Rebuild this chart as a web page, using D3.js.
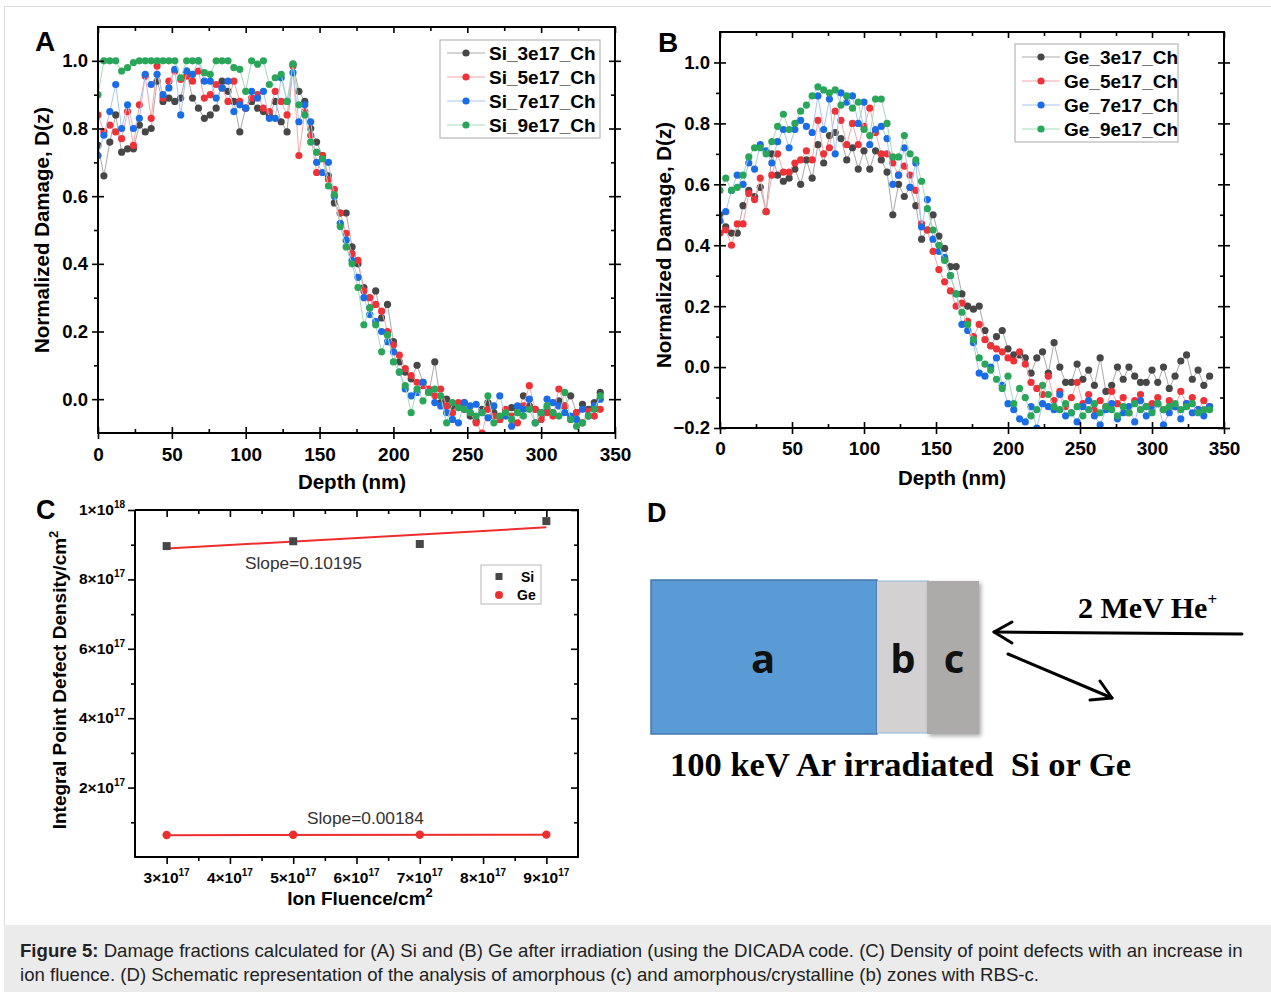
<!DOCTYPE html>
<html>
<head>
<meta charset="utf-8">
<script src="https://cdn.jsdelivr.net/npm/d3@7"></script>
<style>
body { margin: 0; background: #fff; }
svg { display: block; }
</style>
</head>
<body>
<svg id="fig" width="1271" height="992"></svg>
<script>
// depth grid (nm) shared by panels A and B
var depth = [0,4,8,12,16,20,24,28,32,36,
             40,44,48,52,56,60,64,68,72,76,
             80,84,88,92,96,100,104,108,112,116,
             120,124,128,132,136,140,144,148,152,156,
             160,164,168,172,176,180,184,188,192,196,
             200,204,208,212,216,220,224,228,232,236,
             240,244,248,252,256,260,264,268,272,276,
             280,284,288,292,296,300,304,308,312,316,
             320,324,328,332,336,340];

var siNames = ["Si_3e17_Ch", "Si_5e17_Ch", "Si_7e17_Ch", "Si_9e17_Ch"];
var geNames = ["Ge_3e17_Ch", "Ge_5e17_Ch", "Ge_7e17_Ch", "Ge_9e17_Ch"];

var si3e17 = [0.75,0.66,0.76,0.84,0.73,0.74,0.74,0.81,0.79,0.80,
              0.94,0.88,0.89,0.88,0.89,0.97,0.89,0.86,0.83,0.84,
              0.86,0.94,0.91,0.88,0.79,0.86,0.88,0.86,0.85,0.84,
              0.88,0.82,0.79,0.99,0.91,0.88,0.80,0.76,0.72,0.66,
              0.58,0.55,0.55,0.45,0.40,0.33,0.27,0.32,0.24,0.28,
              0.17,0.11,0.08,0.06,0.10,0.05,0.02,0.11,-0.01,0.00,
              -0.02,-0.015,-0.03,-0.05,-0.065,-0.03,-0.01,-0.04,-0.06,-0.04,
              -0.025,-0.04,0.01,-0.02,-0.03,-0.05,-0.03,-0.04,-0.005,-0.02,
              0.01,-0.04,-0.015,-0.03,-0.01,0.02];
var si5e17 = [0.84,0.79,0.81,0.79,0.77,0.85,0.75,0.87,0.955,0.83,
              0.985,0.89,0.94,0.97,0.945,0.955,0.94,0.97,0.89,0.90,
              0.93,0.92,0.88,0.94,0.88,0.86,0.89,0.90,0.86,0.85,
              0.91,0.88,0.84,0.985,0.72,0.85,0.78,0.67,0.72,0.65,
              0.62,0.55,0.49,0.43,0.41,0.32,0.30,0.28,0.26,0.20,
              0.16,0.13,0.09,0.07,0.05,0.04,0.03,0.01,0.03,-0.02,
              -0.04,-0.01,-0.01,-0.04,-0.07,-0.10,-0.03,-0.05,-0.06,-0.03,
              -0.05,-0.07,-0.02,0.04,-0.03,-0.06,-0.04,-0.05,0.03,-0.02,
              -0.06,-0.04,-0.07,-0.035,-0.05,-0.03];
var si7e17 = [0.72,0.78,0.85,0.93,0.80,0.87,0.80,0.83,0.96,0.93,
              0.96,0.90,0.92,0.975,0.84,0.97,0.96,1.00,0.94,0.94,
              0.89,0.92,0.94,0.85,0.87,0.86,0.91,0.89,0.91,0.83,
              0.83,0.95,0.88,0.965,0.82,0.87,0.82,0.70,0.67,0.70,
              0.60,0.52,0.47,0.41,0.36,0.30,0.25,0.23,0.20,0.17,
              0.14,0.08,0.03,0.01,0.02,0.05,0.02,-0.01,-0.02,-0.04,
              -0.06,-0.07,-0.01,-0.02,-0.015,-0.04,-0.055,-0.02,0.01,-0.05,
              -0.08,-0.02,-0.03,0.00,-0.07,-0.04,0.00,-0.01,-0.02,-0.04,
              -0.05,-0.06,-0.03,-0.05,-0.02,0.00];
var si9e17 = [0.90,1.00,1.00,1.00,0.97,0.98,0.995,1.00,1.00,1.00,
              1.00,1.00,1.00,1.00,0.95,1.00,1.00,1.00,0.965,0.96,
              1.00,1.00,1.00,0.98,0.975,0.91,1.00,0.99,1.00,0.93,
              0.95,0.96,0.88,0.99,0.87,0.84,0.76,0.73,0.71,0.63,
              0.605,0.51,0.45,0.40,0.33,0.22,0.27,0.22,0.14,0.19,
              0.11,0.08,0.04,-0.04,0.03,-0.005,0.02,0.03,0.01,-0.07,
              -0.01,-0.025,-0.03,-0.04,-0.05,-0.04,0.01,-0.07,-0.05,-0.04,
              -0.06,-0.04,-0.05,-0.03,-0.07,-0.04,-0.02,-0.04,-0.05,0.02,
              -0.06,-0.08,-0.07,-0.05,-0.03,0.01];

var ge3e17 = [0.50,0.46,0.44,0.44,0.53,0.58,0.56,0.59,0.51,0.70,
              0.63,0.61,0.62,0.65,0.60,0.68,0.62,0.73,0.67,0.76,
              0.77,0.75,0.68,0.72,0.65,0.71,0.65,0.71,0.68,0.64,
              0.50,0.60,0.56,0.59,0.53,0.42,0.45,0.50,0.43,0.39,
              0.33,0.33,0.24,0.20,0.19,0.20,0.12,0.07,0.10,0.12,
              0.06,0.04,0.04,0.03,-0.02,0.03,0.05,-0.02,0.08,0.00,
              -0.05,-0.05,0.01,-0.04,-0.01,-0.06,0.03,-0.08,-0.06,0.00,
              -0.04,0.00,-0.03,-0.05,-0.05,-0.01,-0.05,0.00,-0.07,-0.03,
              0.02,0.04,-0.04,-0.01,-0.06,-0.03];
var ge5e17 = [0.44,0.45,0.40,0.47,0.47,0.57,0.55,0.62,0.51,0.63,
              0.70,0.64,0.64,0.67,0.68,0.71,0.68,0.81,0.70,0.72,
              0.84,0.81,0.73,0.80,0.73,0.79,0.85,0.77,0.70,0.70,
              0.67,0.63,0.66,0.63,0.58,0.47,0.45,0.38,0.32,0.28,
              0.25,0.20,0.21,0.15,0.10,0.14,0.09,0.07,0.06,0.05,
              0.03,0.02,0.05,0.01,-0.05,-0.07,-0.09,-0.03,-0.11,-0.08,
              -0.13,-0.10,-0.05,-0.12,-0.09,-0.14,-0.11,-0.13,-0.08,-0.12,
              -0.10,-0.15,-0.11,-0.09,-0.13,-0.12,-0.10,-0.14,-0.11,-0.13,
              -0.08,-0.12,-0.10,-0.14,-0.11,-0.13];
var ge7e17 = [0.48,0.51,0.58,0.63,0.60,0.67,0.65,0.73,0.71,0.67,
              0.74,0.78,0.72,0.78,0.81,0.79,0.77,0.89,0.78,0.88,
              0.70,0.90,0.87,0.89,0.80,0.87,0.73,0.78,0.79,0.75,
              0.60,0.63,0.72,0.59,0.67,0.46,0.55,0.42,0.38,0.36,
              0.30,0.24,0.14,0.12,0.08,-0.02,-0.03,0.00,0.03,-0.06,
              -0.12,-0.14,-0.17,-0.18,-0.13,-0.20,-0.12,-0.13,-0.14,-0.09,
              -0.16,-0.15,-0.18,-0.13,-0.11,-0.16,-0.19,-0.14,-0.12,-0.17,
              -0.15,-0.13,-0.18,-0.11,-0.16,-0.14,-0.12,-0.19,-0.15,-0.13,
              -0.17,-0.12,-0.15,-0.14,-0.16,-0.13];
var ge9e17 = [0.58,0.62,0.58,0.59,0.63,0.69,0.72,0.72,0.70,0.74,
              0.79,0.83,0.78,0.80,0.84,0.86,0.89,0.92,0.91,0.90,
              0.91,0.86,0.89,0.85,0.87,0.78,0.76,0.88,0.88,0.80,
              0.69,0.69,0.76,0.70,0.68,0.61,0.52,0.45,0.40,0.35,
              0.30,0.24,0.18,0.14,0.09,0.03,0.01,-0.01,-0.04,-0.07,
              -0.03,-0.12,-0.07,-0.10,-0.16,-0.14,-0.06,-0.09,-0.13,-0.14,
              -0.12,-0.15,-0.13,-0.16,-0.14,-0.12,-0.15,-0.13,-0.14,-0.16,
              -0.13,-0.15,-0.12,-0.14,-0.13,-0.15,-0.12,-0.14,-0.13,-0.12,
              -0.14,-0.13,-0.12,-0.15,-0.14,-0.14];

var depthTicks = [0, 50, 100, 150, 200, 250, 300, 350];
var depthMinor = [25, 75, 125, 175, 225, 275, 325];
var siDamageTicks = [0, 0.2, 0.4, 0.6, 0.8, 1.0];
var siDamageMinor = [0.1, 0.3, 0.5, 0.7, 0.9];
var geDamageTicks = [-0.2, 0, 0.2, 0.4, 0.6, 0.8, 1.0];
var geDamageMinor = [-0.1, 0.1, 0.3, 0.5, 0.7, 0.9];

// panel C
var fluence = [3e17, 5e17, 7e17, 9e17];
var siDensity = [8.96e17, 9.10e17, 9.02e17, 9.68e17];
var geDensity = [6.35e16, 6.4e16, 6.4e16, 6.45e16];
var fitFluence = [3e17, 9e17];
var siFit = [8.89e17, 9.50e17];
var geFit = [6.3e16, 6.42e16];
var fluenceTicks = [3e17, 4e17, 5e17, 6e17, 7e17, 8e17, 9e17];
var fluenceLabels = [["3", "17"], ["4", "17"], ["5", "17"], ["6", "17"], ["7", "17"], ["8", "17"], ["9", "17"]];
var fluenceMinor = [3.5e17, 4.5e17, 5.5e17, 6.5e17, 7.5e17, 8.5e17];
var densityTicks = [2e17, 4e17, 6e17, 8e17, 1e18];
var densityLabels = [["2", "17"], ["4", "17"], ["6", "17"], ["8", "17"], ["1", "18"]];
var densityMinor = [1e17, 3e17, 5e17, 7e17, 9e17];

var dotColors = ["#474747", "#ee3237", "#1a6de6", "#2aa65a"];
var lineColors = ["#a9a9a9", "#f6a7a9", "#a7c5f3", "#a4dbb8"];

var FONT = "Arial, 'Liberation Sans', sans-serif";
var SERIF = "'Times New Roman', 'Liberation Serif', serif";

var svg = d3.select("#fig");

window.onload = init;

function init() {
    svg.append("rect").attr("width", 1271).attr("height", 992).attr("fill", "#fff");
    svg.append("rect")
        .attr("x", 4.5).attr("y", 6.5).attr("width", 1270).attr("height", 920)
        .attr("fill", "none").attr("stroke", "#dadada");

    damagePanel({
        id: "A", label: "A", labelX: 35, labelY: 51,
        left: 98, right: 615, top: 27, bottom: 433,
        yDomain: [-0.1, 1.1], yTicks: siDamageTicks, yMinor: siDamageMinor,
        series: [si3e17, si5e17, si7e17, si9e17], names: siNames,
        legX: 440, legY: 40, legW: 160,
        xPad: 9, titleX: 352, titleY: 489, yTitleX: 49, yTitleY: 230
    });

    damagePanel({
        id: "B", label: "B", labelX: 658, labelY: 52,
        left: 720, right: 1224, top: 32, bottom: 428,
        yDomain: [-0.2, 1.1], yTicks: geDamageTicks, yMinor: geDamageMinor,
        series: [ge3e17, ge5e17, ge7e17, ge9e17], names: geNames,
        legX: 1015, legY: 44, legW: 163,
        xPad: 8, titleX: 952, titleY: 485, yTitleX: 671, yTitleY: 245
    });

    densityPanel();
    schematicPanel();
    caption();
}

function addAxis(g, gen, translate, values, size, fmt, pad, fontSize) {
    var a = g.append("g").attr("transform", translate)
        .call(gen.tickValues(values).tickSizeInner(size).tickSizeOuter(0)
            .tickPadding(pad || 3).tickFormat(fmt || ""));
    a.select(".domain").remove();
    a.selectAll(".tick line").attr("stroke", "#000").attr("stroke-width", 1.6);
    a.attr("font-family", FONT).attr("font-size", fontSize || 16).attr("font-weight", "bold");
    a.selectAll(".tick text").attr("fill", "#000");
    return a;
}

function damagePanel(cfg) {
    var x = d3.scaleLinear().domain([0, 350]).range([cfg.left, cfg.right]);
    var y = d3.scaleLinear().domain(cfg.yDomain).range([cfg.bottom, cfg.top]);
    var g = svg.append("g");

    g.append("clipPath").attr("id", cfg.id + "clip").append("rect")
        .attr("x", cfg.left).attr("y", cfg.top)
        .attr("width", cfg.right - cfg.left).attr("height", cfg.bottom - cfg.top);
    var plot = g.append("g").attr("clip-path", "url(#" + cfg.id + "clip)");

    var line = d3.line()
        .x(function(d) { return x(d[0]); })
        .y(function(d) { return y(d[1]); });

    cfg.series.forEach(function(vals, k) {
        var pts = vals.map(function(v, i) { return [depth[i], v]; });
        plot.append("path").datum(pts)
            .attr("d", line)
            .attr("fill", "none")
            .attr("stroke", lineColors[k])
            .attr("stroke-width", 1);
        plot.selectAll("circle.s" + k)
            .data(pts)
            .enter()
            .append("circle")
            .attr("class", "s" + k)
            .attr("cx", function(d) { return x(d[0]); })
            .attr("cy", function(d) { return y(d[1]); })
            .attr("r", 3.6)
            .attr("fill", dotColors[k]);
    });

    var fmt = d3.format(".1f");
    // bottom
    addAxis(g, d3.axisBottom(x), "translate(0," + cfg.bottom + ")", depthTicks, 6, d3.format("d"), cfg.xPad, 19);
    addAxis(g, d3.axisBottom(x), "translate(0," + cfg.bottom + ")", depthTicks, -6);
    addAxis(g, d3.axisBottom(x), "translate(0," + cfg.bottom + ")", depthMinor, -4);
    // left
    addAxis(g, d3.axisLeft(y), "translate(" + cfg.left + ",0)", cfg.yTicks, 6, fmt, 4, 18.5);
    addAxis(g, d3.axisLeft(y), "translate(" + cfg.left + ",0)", cfg.yTicks, -6);
    addAxis(g, d3.axisLeft(y), "translate(" + cfg.left + ",0)", cfg.yMinor, 4);
    // top and right mirror
    addAxis(g, d3.axisTop(x), "translate(0," + cfg.top + ")", depthTicks, -6);
    addAxis(g, d3.axisTop(x), "translate(0," + cfg.top + ")", depthMinor, -4);
    addAxis(g, d3.axisRight(y), "translate(" + cfg.right + ",0)", cfg.yTicks, 6);
    addAxis(g, d3.axisRight(y), "translate(" + cfg.right + ",0)", cfg.yTicks, -6);
    addAxis(g, d3.axisRight(y), "translate(" + cfg.right + ",0)", cfg.yMinor, -4);

    g.append("rect")
        .attr("x", cfg.left).attr("y", cfg.top)
        .attr("width", cfg.right - cfg.left).attr("height", cfg.bottom - cfg.top)
        .attr("fill", "none").attr("stroke", "#000").attr("stroke-width", 2);

    // legend
    var leg = g.append("g");
    leg.append("rect")
        .attr("x", cfg.legX).attr("y", cfg.legY)
        .attr("width", cfg.legW).attr("height", 98)
        .attr("fill", "#fff").attr("stroke", "#b8b8b8").attr("stroke-width", 1.2);
    cfg.names.forEach(function(name, k) {
        var yy = cfg.legY + 13 + k * 24;
        leg.append("line")
            .attr("x1", cfg.legX + 7).attr("x2", cfg.legX + 45)
            .attr("y1", yy).attr("y2", yy)
            .attr("stroke", lineColors[k]).attr("stroke-width", 1.2);
        leg.append("circle")
            .attr("cx", cfg.legX + 26).attr("cy", yy).attr("r", 3.6)
            .attr("fill", dotColors[k]);
        leg.append("text")
            .attr("x", cfg.legX + 49).attr("y", yy + 7)
            .attr("font-family", FONT).attr("font-size", 19).attr("font-weight", "bold")
            .text(name);
    });

    // titles
    g.append("text")
        .attr("x", cfg.titleX).attr("y", cfg.titleY)
        .attr("text-anchor", "middle")
        .attr("font-family", FONT).attr("font-size", 20.5).attr("font-weight", "bold")
        .text("Depth (nm)");
    g.append("text")
        .attr("transform", "translate(" + cfg.yTitleX + "," + cfg.yTitleY + ") rotate(-90)")
        .attr("text-anchor", "middle")
        .attr("font-family", FONT).attr("font-size", 20.5).attr("font-weight", "bold")
        .text("Normalized Damage, D(z)");
    g.append("text")
        .attr("x", cfg.labelX).attr("y", cfg.labelY)
        .attr("font-family", FONT).attr("font-size", 28).attr("font-weight", "bold")
        .text(cfg.label);
}

function powerLabel(sel, pair, size, supSize) {
    sel.append("tspan").attr("font-size", size).text(pair[0] + "\u00d710");
    sel.append("tspan").attr("font-size", supSize).attr("dy", -7).text(pair[1]);
}

function densityPanel() {
    var left = 135, right = 578, top = 510, bottom = 857;
    var x = d3.scaleLinear().domain([2.5e17, 9.5e17]).range([left, right]);
    var y = d3.scaleLinear().domain([0, 1e18]).range([bottom, top]);
    var g = svg.append("g");

    addAxis(g, d3.axisBottom(x), "translate(0," + bottom + ")", fluenceTicks, 7);
    addAxis(g, d3.axisBottom(x), "translate(0," + bottom + ")", fluenceMinor, 4);
    addAxis(g, d3.axisLeft(y), "translate(" + left + ",0)", densityTicks, 7);
    addAxis(g, d3.axisLeft(y), "translate(" + left + ",0)", densityMinor, 4);
    addAxis(g, d3.axisTop(x), "translate(0," + top + ")", fluenceTicks, -7);
    addAxis(g, d3.axisTop(x), "translate(0," + top + ")", fluenceMinor, -4);
    addAxis(g, d3.axisRight(y), "translate(" + right + ",0)", densityTicks, -7);
    addAxis(g, d3.axisRight(y), "translate(" + right + ",0)", densityMinor, -4);

    g.append("path")
        .attr("d", "M" + left + "," + top + "V" + bottom + "H" + right + "V" + top + "H" + left)
        .attr("fill", "none").attr("stroke", "#000").attr("stroke-width", 2);

    // tick labels with powers of ten
    g.selectAll("text.xl")
        .data(fluenceTicks)
        .enter()
        .append("text")
        .attr("class", "xl")
        .attr("x", function(d) { return x(d); })
        .attr("y", 883)
        .attr("text-anchor", "middle")
        .attr("font-family", FONT).attr("font-weight", "bold")
        .each(function(d, i) { powerLabel(d3.select(this), fluenceLabels[i], 15.5, 10); });
    g.selectAll("text.yl")
        .data(densityTicks)
        .enter()
        .append("text")
        .attr("class", "yl")
        .attr("x", 125)
        .attr("y", function(d) { return y(d) + 5; })
        .attr("text-anchor", "end")
        .attr("font-family", FONT).attr("font-weight", "bold")
        .each(function(d, i) { powerLabel(d3.select(this), densityLabels[i], 15.5, 10); });

    // fit lines
    var fitLine = d3.line()
        .x(function(d) { return x(d[0]); })
        .y(function(d) { return y(d[1]); });
    [siFit, geFit].forEach(function(fit) {
        g.append("path")
            .datum(fitFluence.map(function(f, i) { return [f, fit[i]]; }))
            .attr("d", fitLine)
            .attr("fill", "none").attr("stroke", "#ee2e2e").attr("stroke-width", 2);
    });

    g.selectAll("rect.si")
        .data(fluence)
        .enter()
        .append("rect")
        .attr("class", "si")
        .attr("x", function(d) { return x(d) - 4; })
        .attr("y", function(d, i) { return y(siDensity[i]) - 4; })
        .attr("width", 8).attr("height", 8)
        .attr("fill", "#474747");
    g.selectAll("circle.ge")
        .data(fluence)
        .enter()
        .append("circle")
        .attr("class", "ge")
        .attr("cx", function(d) { return x(d); })
        .attr("cy", function(d, i) { return y(geDensity[i]); })
        .attr("r", 4.2)
        .attr("fill", "#ee2e2e");

    g.append("text").attr("x", 245).attr("y", 569)
        .attr("font-family", FONT).attr("font-size", 17.3).attr("fill", "#333")
        .text("Slope=0.10195");
    g.append("text").attr("x", 307).attr("y", 824)
        .attr("font-family", FONT).attr("font-size", 17.3).attr("fill", "#333")
        .text("Slope=0.00184");

    // legend
    g.append("rect").attr("x", 481).attr("y", 565).attr("width", 60).attr("height", 39)
        .attr("fill", "#fff").attr("stroke", "#c4c4c4").attr("stroke-width", 1.2);
    g.append("rect").attr("x", 495.5).attr("y", 573).attr("width", 7).attr("height", 7).attr("fill", "#474747");
    g.append("circle").attr("cx", 499).attr("cy", 595).attr("r", 4).attr("fill", "#ee2e2e");
    g.append("text").attr("x", 521).attr("y", 582)
        .attr("font-family", FONT).attr("font-size", 14).attr("font-weight", "bold").text("Si");
    g.append("text").attr("x", 517).attr("y", 600)
        .attr("font-family", FONT).attr("font-size", 14).attr("font-weight", "bold").text("Ge");

    // titles
    var xt = g.append("text").attr("x", 360).attr("y", 905).attr("text-anchor", "middle")
        .attr("font-family", FONT).attr("font-size", 19).attr("font-weight", "bold");
    xt.append("tspan").text("Ion Fluence/cm");
    xt.append("tspan").attr("font-size", 13).attr("dy", -8).text("2");
    var yt = g.append("text").attr("transform", "translate(66,680) rotate(-90)")
        .attr("text-anchor", "middle")
        .attr("font-family", FONT).attr("font-size", 19).attr("font-weight", "bold");
    yt.append("tspan").text("Integral Point Defect Density/cm");
    yt.append("tspan").attr("font-size", 13).attr("dy", -8).text("2");

    g.append("text").attr("x", 36).attr("y", 519)
        .attr("font-family", FONT).attr("font-size", 27).attr("font-weight", "bold").text("C");
}

function schematicPanel() {
    var g = svg.append("g");
    var defs = svg.append("defs");
    defs.append("filter").attr("id", "shadow")
        .attr("x", "-20%").attr("y", "-10%").attr("width", "150%").attr("height", "130%")
        .append("feDropShadow")
        .attr("dx", 2).attr("dy", 2).attr("stdDeviation", 2)
        .attr("flood-color", "#000").attr("flood-opacity", 0.35);

    g.append("text").attr("x", 647).attr("y", 522)
        .attr("font-family", FONT).attr("font-size", 27).attr("font-weight", "bold").text("D");

    g.append("rect").attr("x", 651).attr("y", 580).attr("width", 226).attr("height", 154)
        .attr("fill", "#5b9bd5").attr("stroke", "#4677aa").attr("stroke-width", 1.5);
    g.append("rect").attr("x", 877).attr("y", 581).attr("width", 52).attr("height", 152)
        .attr("fill", "#d3d1d1");
    g.append("line").attr("x1", 877).attr("x2", 929).attr("y1", 581).attr("y2", 581)
        .attr("stroke", "#8fb6e0").attr("stroke-width", 1);
    g.append("line").attr("x1", 877).attr("x2", 929).attr("y1", 733).attr("y2", 733)
        .attr("stroke", "#8fb6e0").attr("stroke-width", 1);
    g.append("rect").attr("x", 927).attr("y", 581).attr("width", 52).attr("height", 153)
        .attr("fill", "#adaaaa").attr("filter", "url(#shadow)");

    [["a", 763], ["b", 903], ["c", 954]].forEach(function(d) {
        g.append("text").attr("x", d[1]).attr("y", 673).attr("text-anchor", "middle")
            .attr("font-family", "'Open Sans', Arial, sans-serif").attr("font-size", 40)
            .attr("font-weight", "bold").attr("fill", "#111").text(d[0]);
    });

    var arrow = g.append("g").attr("stroke", "#000").attr("stroke-width", 3)
        .attr("fill", "none").attr("stroke-linecap", "round").attr("stroke-linejoin", "round");
    arrow.append("path").attr("d", "M1242,634 L994,632");
    arrow.append("path").attr("d", "M1012,622 L994,632 L1012,643");
    arrow.append("path").attr("d", "M1008,654 L1112,698");
    arrow.append("path").attr("d", "M1090,700 L1112,698 L1100,681");

    var he = g.append("text").attr("x", 1078).attr("y", 618)
        .attr("font-family", SERIF).attr("font-size", 30).attr("font-weight", "bold");
    he.append("tspan").text("2 MeV He");
    he.append("tspan").attr("font-size", 17).attr("dy", -13).text("+");

    g.append("text").attr("x", 670).attr("y", 776)
        .attr("font-family", SERIF).attr("font-size", 34.5).attr("font-weight", "bold")
        .attr("xml:space", "preserve")
        .text("100 keV Ar irradiated  Si or Ge");
}

function caption() {
    svg.append("rect").attr("x", 4).attr("y", 925).attr("width", 1267).attr("height", 67)
        .attr("fill", "#ebebeb");
    var t1 = svg.append("text").attr("x", 20).attr("y", 957)
        .attr("font-family", FONT).attr("font-size", 18.6).attr("fill", "#222");
    t1.append("tspan").attr("font-weight", "bold").text("Figure 5:");
    t1.append("tspan").text(" Damage fractions calculated for (A) Si and (B) Ge after irradiation (using the DICADA code. (C) Density of point defects with an increase in");
    svg.append("text").attr("x", 20).attr("y", 981)
        .attr("font-family", FONT).attr("font-size", 18.6).attr("fill", "#222")
        .text("ion fluence. (D) Schematic representation of the analysis of amorphous (c) and amorphous/crystalline (b) zones with RBS-c.");
}
</script>
</body>
</html>
